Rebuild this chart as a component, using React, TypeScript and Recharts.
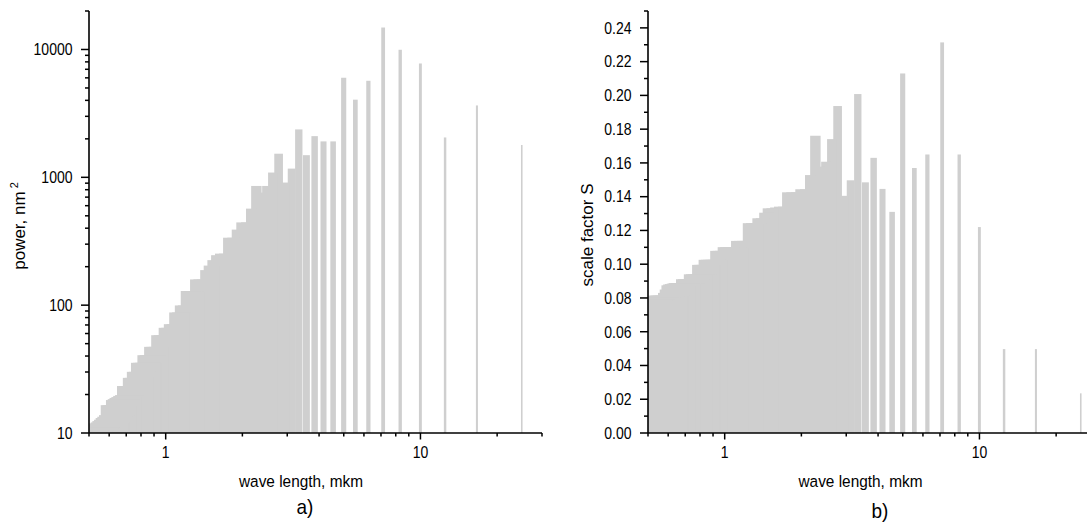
import React from 'react';
import { ComposedChart, Bar, XAxis, YAxis, Label } from 'recharts';

// wave lengths of the harmonics, mkm
const WAVELENGTHS = [
  25, 16.67, 12.5, 10, 8.333, 7.143, 6.25, 5.556, 5, 4.545,
  4.167, 3.846, 3.571, 3.333, 3.125, 2.941, 2.778, 2.632, 2.5, 2.381,
  2.273, 2.174, 2.083, 2, 1.923, 1.852, 1.786, 1.724, 1.667, 1.613,
  1.563, 1.515, 1.471, 1.429, 1.389, 1.351, 1.316, 1.282, 1.25, 1.22,
  1.19, 1.163, 1.136, 1.111, 1.087, 1.064, 1.042, 1.02, 1, 0.9804,
  0.9615, 0.9434, 0.9259, 0.9091, 0.8929, 0.8772, 0.8621, 0.8475, 0.8333, 0.8197,
  0.8065, 0.7937, 0.7813, 0.7692, 0.7576, 0.7463, 0.7353, 0.7246, 0.7143, 0.7042,
  0.6944, 0.6849, 0.6757, 0.6667, 0.6579, 0.6494, 0.641, 0.6329, 0.625, 0.6173,
  0.6098, 0.6024, 0.5952, 0.5882, 0.5814, 0.5747, 0.5682, 0.5618, 0.5556, 0.5495,
  0.5435, 0.5376, 0.5319, 0.5263, 0.5208, 0.5155, 0.5102, 0.5051, 0.5,
];

// power, nm^2
const POWER = [
  1790, 3650, 2050, 7770, 9950, 14850, 5690, 4050, 6010, 1910,
  1910, 2100, 1490, 2370, 1170, 910, 1530, 1090, 856, 760,
  856, 569, 444, 444, 390, 337, 337, 253, 253, 246,
  225, 204, 188, 159, 159, 159, 129, 129, 129, 99.5,
  99.5, 87.7, 87.7, 71, 71, 66.5, 66.5, 58.2, 58.2, 58.2,
  47.2, 47.2, 47.2, 40.6, 40.6, 40.6, 35.4, 35.4, 35.4, 30.1,
  30.1, 27, 27, 23.3, 23.3, 23.3, 19.8, 19.5, 19.1, 18.8,
  18.4, 18.1, 16.5, 16.5, 16.5, 13.8, 13.4, 13.1, 12.7, 12.4,
  12.1, 11.9, 11.6, 11.5, 11.4, 11.3, 11.2, 11.1, 11.0, 10.9,
  10.8, 10.7, 10.6, 10.5, 10.4, 10.3, 10.2, 10.1, 10.05,
];

// scale factor S
const SCALE_FACTOR = [
  0.0235, 0.0497, 0.0497, 0.122, 0.165, 0.2314, 0.165, 0.157, 0.213, 0.131,
  0.1446, 0.163, 0.1485, 0.2008, 0.1497, 0.1405, 0.1937, 0.1741, 0.1607, 0.1578,
  0.1761, 0.1528, 0.1444, 0.1444, 0.1426, 0.1426, 0.1426, 0.1341, 0.1341, 0.1336,
  0.1331, 0.1331, 0.1305, 0.1272, 0.1272, 0.1243, 0.1243, 0.1243, 0.1138, 0.1138,
  0.1138, 0.1138, 0.1101, 0.1101, 0.1101, 0.1101, 0.1101, 0.1079, 0.1079, 0.1079,
  0.1026, 0.1026, 0.1026, 0.1026, 0.1026, 0.0996, 0.0996, 0.0996, 0.094, 0.094,
  0.094, 0.094, 0.0911, 0.0911, 0.0911, 0.0911, 0.0888, 0.0888, 0.0888, 0.0888,
  0.0885, 0.0882, 0.088, 0.0875, 0.085, 0.083, 0.0814, 0.0814, 0.0814, 0.0814,
  0.0814, 0.0814, 0.081, 0.0808, 0.0806, 0.0804, 0.0802, 0.08, 0.0798, 0.0796,
  0.0794, 0.0792, 0.079, 0.0788, 0.0786, 0.0784, 0.0782, 0.078, 0.0778,
];

const X_TICKS = [0.5, 0.6, 0.7, 0.8, 0.9, 1, 2, 3, 4, 5, 6, 7, 8, 9, 10, 20, 30];
const X_MAJOR = [1, 10];
const POWER_TICKS = [
  10, 20, 30, 40, 50, 60, 70, 80, 90,
  100, 200, 300, 400, 500, 600, 700, 800, 900,
  1000, 2000, 3000, 4000, 5000, 6000, 7000, 8000, 9000,
  10000, 20000,
];
const POWER_MAJOR = [10, 100, 1000, 10000];
const SCALE_TICKS = [
  0, 0.01, 0.02, 0.03, 0.04, 0.05, 0.06, 0.07, 0.08, 0.09, 0.1, 0.11, 0.12,
  0.13, 0.14, 0.15, 0.16, 0.17, 0.18, 0.19, 0.2, 0.21, 0.22, 0.23, 0.24, 0.25,
];
const SCALE_MAJOR = [0, 0.02, 0.04, 0.06, 0.08, 0.1, 0.12, 0.14, 0.16, 0.18, 0.2, 0.22, 0.24];

const powerData = WAVELENGTHS.map((wl, i) => ({ wl, v: POWER[i] }));
const scaleData = WAVELENGTHS.map((wl, i) => ({ wl, v: SCALE_FACTOR[i] }));

const FONT = 'Liberation Sans, Arial, Helvetica, sans-serif';
const BAR_FILL = '#cfcfcf';
const BAR_W = 0.2; // bar width in mkm
const CHART_W = 560;
const CHART_H = 524;
const MARGIN = { top: 11, right: 18, bottom: 0, left: 0 };
const Y_AXIS_W = 89;
const X_AXIS_H = 91;
const PLOT_LEFT = MARGIN.left + Y_AXIS_W;
const PLOT_W = CHART_W - PLOT_LEFT - MARGIN.right;
const X_DOMAIN: [number, number] = [0.5, 30];
const PX_PER_DECADE = PLOT_W / Math.log10(X_DOMAIN[1] / X_DOMAIN[0]);

const isIn = (list: number[], v: number) => list.some((m) => Math.abs(m - v) < 1e-9);

// bars have a constant width in mkm, so on the log axis it changes with the wave length
function barShape(props: any) {
  const { x, y, width, height, payload } = props;
  if (!(height > 0)) return <g />;
  const cx = x + width / 2;
  const wl = payload.wl;
  let x0 = cx + Math.log10((wl - BAR_W / 2) / wl) * PX_PER_DECADE - 0.35;
  const x1 = cx + Math.log10((wl + BAR_W / 2) / wl) * PX_PER_DECADE + 0.35;
  x0 = Math.max(x0, PLOT_LEFT);
  return <rect x={x0} y={y} width={Math.max(x1 - x0, 0)} height={height} fill={BAR_FILL} />;
}

function XTick(props: any) {
  const { x, y, payload } = props;
  const major = isIn(X_MAJOR, payload.value);
  return (
    <g>
      <line x1={x} y1={y} x2={x} y2={y + (major ? 6.5 : 3.5)} stroke="#000" strokeWidth={1.5} />
      {major && (
        <text
          transform={`translate(${x},${y + 25}) scale(1,1.15)`}
          textAnchor="middle"
          fontFamily={FONT}
          fontSize={14}
          fill="#000"
        >
          {payload.value}
        </text>
      )}
    </g>
  );
}

function makeYTick(major: number[], format: (v: number) => string) {
  return function YTick(props: any) {
    const { x, y, payload } = props;
    const isMajor = isIn(major, payload.value);
    return (
      <g>
        <line x1={x} y1={y} x2={x - (isMajor ? 8 : 4)} y2={y} stroke="#000" strokeWidth={1.5} />
        {isMajor && (
          <text
            transform={`translate(${x - 16.5},${y + 5.8}) scale(1,1.15)`}
            textAnchor="end"
            fontFamily={FONT}
            fontSize={14}
            fill="#000"
          >
            {format(payload.value)}
          </text>
        )}
      </g>
    );
  };
}

interface PanelProps {
  data: { wl: number; v: number }[];
  left: number;
  yScale: 'log' | 'linear';
  yDomain: [number, number];
  yTicks: number[];
  yMajor: number[];
  yFormat: (v: number) => string;
  yTitle: React.ReactNode;
  yTitleX: number;
  yTitleY: number;
  xTitleX: number;
  tag: string;
  tagX: number;
  tagY: number;
}

function Panel(p: PanelProps) {
  const YTick = makeYTick(p.yMajor, p.yFormat);
  return (
    <div style={{ position: 'absolute', left: p.left, top: 0 }}>
      <ComposedChart width={CHART_W} height={CHART_H} data={p.data} margin={MARGIN}>
        <XAxis
          dataKey="wl"
          type="number"
          scale="log"
          domain={X_DOMAIN}
          ticks={X_TICKS}
          interval={0}
          allowDataOverflow
          height={X_AXIS_H}
          tickSize={0}
          tickMargin={0}
          tickLine={false}
          axisLine={{ stroke: '#000', strokeWidth: 1.6 }}
          tick={(t: any) => <XTick {...t} />}
        >
          <Label
            content={() => (
              <g fontFamily={FONT} fill="#000">
                <text
                  transform={`translate(${p.xTitleX},487) scale(1,1.12)`}
                  textAnchor="middle"
                  fontSize={15.4}
                >
                  wave length, mkm
                </text>
                <text
                  transform={`translate(${p.tagX},${p.tagY}) scale(1,1.1)`}
                  textAnchor="middle"
                  fontSize={19}
                >
                  {p.tag}
                </text>
              </g>
            )}
          />
        </XAxis>
        <YAxis
          type="number"
          scale={p.yScale}
          domain={p.yDomain}
          ticks={p.yTicks}
          interval={0}
          allowDataOverflow
          width={Y_AXIS_W}
          tickSize={0}
          tickMargin={0}
          tickLine={false}
          axisLine={{ stroke: '#000', strokeWidth: 1.6 }}
          tick={(t: any) => <YTick {...t} />}
        >
          <Label
            content={() => (
              <text
                transform={`translate(${p.yTitleX},${p.yTitleY}) rotate(-90)`}
                textAnchor="middle"
                fontFamily={FONT}
                fontSize={17}
                fill="#000"
              >
                {p.yTitle}
              </text>
            )}
          />
        </YAxis>
        <Bar dataKey="v" barSize={1} fill={BAR_FILL} isAnimationActive={false} shape={barShape} />
      </ComposedChart>
    </div>
  );
}

export default function App() {
  return (
    <div
      style={{
        position: 'absolute',
        left: 0,
        top: 0,
        width: 1087,
        height: 524,
        overflow: 'hidden',
        background: '#fff',
      }}
    >
      <Panel
        data={powerData}
        left={0}
        yScale="log"
        yDomain={[10, 20000]}
        yTicks={POWER_TICKS}
        yMajor={POWER_MAJOR}
        yFormat={(v) => String(v)}
        yTitle={
          <>
            power, nm
            <tspan dx={3} dy={-7} fontSize={11}>
              2
            </tspan>
          </>
        }
        yTitleX={25}
        yTitleY={226}
        xTitleX={301}
        tag="a)"
        tagX={305}
        tagY={514}
      />
      <Panel
        data={scaleData}
        left={559}
        yScale="linear"
        yDomain={[0, 0.25]}
        yTicks={SCALE_TICKS}
        yMajor={SCALE_MAJOR}
        yFormat={(v) => v.toFixed(2)}
        yTitle="scale factor S"
        yTitleX={34}
        yTitleY={235}
        xTitleX={301.5}
        tag="b)"
        tagX={321}
        tagY={518}
      />
    </div>
  );
}
